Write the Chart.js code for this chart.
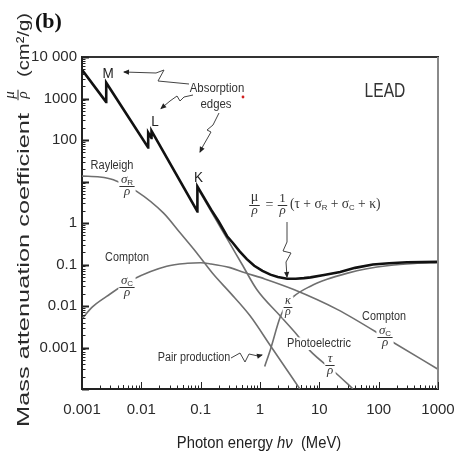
<!DOCTYPE html>
<html>
<head>
<meta charset="utf-8">
<script src="https://cdn.jsdelivr.net/npm/chart.js@4.4.1/dist/chart.umd.min.js"></script>
<style>
  html, body { margin: 0; padding: 0; background: #fff; }
  #wrap { width: 454px; height: 457px; }
</style>
</head>
<body>
<div id="wrap"><canvas id="leadChart" width="454" height="457"></canvas></div>
<script>
// photon energy (MeV) and mass attenuation (cm2/g) for lead
const energyTotal = [0.001, 0.00254, 0.00256, 0.0130, 0.01305, 0.0148, 0.01485, 0.088, 0.0881, 0.15, 0.2, 0.279, 0.35, 0.45, 0.6, 0.8, 1.1, 1.5, 2, 2.87, 4, 5.5, 7.1, 12, 22.4, 40, 80, 150, 302, 1000];
const muTotal = [4900, 830, 2400, 66, 150, 112, 165, 1.9, 7.6, 2.1, 1.1, 0.48, 0.33, 0.21, 0.135, 0.093, 0.07, 0.057, 0.05, 0.0455, 0.0455, 0.047, 0.049, 0.056, 0.066, 0.083, 0.1, 0.107, 0.113, 0.116];

const energyRayleigh = [0.001, 0.002, 0.00337, 0.00836, 0.0235, 0.045, 0.086, 0.164, 0.313, 0.68, 1.5, 4.7];
const rayleigh = [13.5, 12.8, 11, 5.8, 1.75, 0.58, 0.19, 0.058, 0.021, 0.0058, 0.0011, 0.0001];

const energyCompton = [0.001, 0.0015, 0.0026, 0.0073, 0.0268, 0.06, 0.1, 0.15, 0.313, 0.56, 1.2, 3.7, 20, 180, 1000];
const compton = [0.0049, 0.0095, 0.017, 0.044, 0.091, 0.107, 0.11, 0.103, 0.084, 0.063, 0.045, 0.025, 0.0083, 0.0013, 0.0003];

const energyPhoto = [0.0881, 0.15, 0.3, 0.5, 0.883, 2.18, 4, 7, 18.5, 37];
const photo = [7.1, 1.9, 0.35, 0.1, 0.025, 0.0058, 0.0022, 0.00083, 0.00025, 0.0001];

const energyPair = [1.2, 1.5, 2.2, 2.83, 3.7, 7.1, 13.5, 30, 60, 150, 400, 1000];
const pair = [0.00035, 0.0009, 0.0055, 0.011, 0.017, 0.03, 0.044, 0.062, 0.078, 0.095, 0.106, 0.112];

const xTickValues = [0.001, 0.01, 0.1, 1, 10, 100, 1000];
const xTickLabels = ["0.001", "0.01", "0.1", "1", "10", "100", "1000"];
const yTickValues = [0.0001, 0.001, 0.01, 0.1, 1, 10, 100, 1000, 10000];
const yTickLabels = ["", "0.001", "0.01", "0.1", "1", "", "100", "1000", "10 000"];

const INK = "#333";
const GREY = "#6f6f6f";

const pts = (xs, ys) => xs.map((x, i) => ({ x: x, y: ys[i] }));

function setFont(ctx, p) {
  ctx.font = (p.italic ? "italic " : "") + (p.bold ? "bold " : "") + p.size + "px \"" + (p.family || "Liberation Sans") + "\"";
}

function runsWidth(ctx, parts) {
  let w = 0;
  parts.forEach(p => { setFont(ctx, p); w += ctx.measureText(p.t).width; });
  return w;
}

// draws text runs on a common baseline (y), optional horizontal squeeze
function drawRuns(ctx, parts, x, y, opt) {
  opt = opt || {};
  const sx = opt.sx || 1;
  const align = opt.align || "center";
  ctx.save();
  ctx.translate(x, y);
  ctx.scale(sx, 1);
  const w = runsWidth(ctx, parts);
  let cx = align === "center" ? -w / 2 : align === "right" ? -w : 0;
  if (opt.knock) {
    const h = Math.max(...parts.map(p => p.size));
    ctx.fillStyle = "#fff";
    ctx.fillRect(cx - 2, -h * 0.8, w + 4, h * 1.05);
  }
  ctx.textAlign = "left";
  ctx.textBaseline = "alphabetic";
  ctx.fillStyle = opt.color || INK;
  parts.forEach(p => {
    setFont(ctx, p);
    ctx.fillText(p.t, cx, p.dy || 0);
    cx += ctx.measureText(p.t).width;
  });
  ctx.restore();
}

function frac(ctx, num, den, cx, barY, opt) {
  opt = opt || {};
  const size = Math.max(...num.map(p => p.size));
  const bw = Math.max(runsWidth(ctx, num), runsWidth(ctx, den)) + 3;
  if (opt.knock) {
    ctx.fillStyle = "#fff";
    ctx.fillRect(cx - bw / 2 - 1, barY - size * 0.9, bw + 2, size * 1.85);
  }
  drawRuns(ctx, num, cx, barY - (opt.gap || 3), { color: opt.color });
  ctx.strokeStyle = opt.color || INK;
  ctx.lineWidth = 1;
  ctx.beginPath();
  ctx.moveTo(cx - bw / 2, barY + 0.5);
  ctx.lineTo(cx + bw / 2, barY + 0.5);
  ctx.stroke();
  drawRuns(ctx, den, cx, barY + 2 + size * 0.5, { color: opt.color });
}

function arrow(ctx, path) {
  ctx.save();
  ctx.strokeStyle = "#444";
  ctx.fillStyle = "#222";
  ctx.lineWidth = 1;
  ctx.beginPath();
  path.forEach((p, i) => i ? ctx.lineTo(p[0], p[1]) : ctx.moveTo(p[0], p[1]));
  ctx.stroke();
  const a = path[path.length - 2], b = path[path.length - 1];
  const ang = Math.atan2(b[1] - a[1], b[0] - a[0]);
  ctx.translate(b[0], b[1]);
  ctx.rotate(ang);
  ctx.beginPath();
  ctx.moveTo(1, 0);
  ctx.lineTo(-5, -2.6);
  ctx.lineTo(-5, 2.6);
  ctx.closePath();
  ctx.fill();
  ctx.restore();
}

const g = (t, size) => ({ t: t, size: size || 13, family: "Liberation Serif", italic: true });
const sub = t => ({ t: t, size: 8, dy: 2 });
const rho = [g("ρ")];

const decorPlugin = {
  id: "decor",
  beforeDraw(chart) {
    const ctx = chart.ctx;
    ctx.save();
    ctx.fillStyle = "#fff";
    ctx.fillRect(0, 0, chart.width, chart.height);
    ctx.restore();
  },
  afterDraw(chart) {
    const ctx = chart.ctx;
    const ca = chart.chartArea;
    const xs = chart.scales.x, ys = chart.scales.y;
    ctx.save();

    // frame: heavy top, light right side
    ctx.lineWidth = 2;
    ctx.strokeStyle = "#333";
    ctx.beginPath(); ctx.moveTo(ca.left, ca.top); ctx.lineTo(ca.right + 1, ca.top); ctx.stroke();
    ctx.strokeStyle = "#8a8a8a";
    ctx.beginPath(); ctx.moveTo(ca.right, ca.top); ctx.lineTo(ca.right, ca.bottom); ctx.stroke();

    // inward tick marks, majors and minors
    ctx.strokeStyle = "#222";
    ctx.lineWidth = 1;
    for (let d = 0.001; d < 1001; d *= 10) {
      for (let m = 1; m <= 9; m++) {
        const v = d * m;
        if (v > 1000.1) break;
        const px = Math.round(xs.getPixelForValue(v)) + 0.5;
        const len = m === 1 ? 7 : (m === 5 ? 4 : 3.5);
        ctx.beginPath(); ctx.moveTo(px, ca.bottom); ctx.lineTo(px, ca.bottom - len); ctx.stroke();
      }
    }
    for (let d = 0.0001; d < 10001; d *= 10) {
      for (let m = 1; m <= 9; m++) {
        const v = d * m;
        if (v > 10000.1) break;
        const py = Math.round(ys.getPixelForValue(v)) + 0.5;
        const len = m === 1 ? 7 : 3.5;
        ctx.lineWidth = m === 1 ? 2 : 1;
        ctx.beginPath(); ctx.moveTo(ca.left, py); ctx.lineTo(ca.left + len, py); ctx.stroke();
      }
    }

    // panel letter and labels
    drawRuns(ctx, [{ t: "(b)", size: 22, bold: true, family: "Liberation Serif" }], 35, 28, { align: "left", color: "#111" });
    drawRuns(ctx, [{ t: "LEAD", size: 20 }], 385, 97, { sx: 0.78 });
    drawRuns(ctx, [{ t: "M", size: 15 }], 108, 77.5, { sx: 0.9, color: "#222" });
    drawRuns(ctx, [{ t: "L", size: 15 }], 155, 126, { sx: 0.9, color: "#222" });
    drawRuns(ctx, [{ t: "K", size: 15 }], 198.5, 182, { sx: 0.9, color: "#222" });
    drawRuns(ctx, [{ t: "Absorption", size: 12 }], 217, 92, { sx: 0.95 });
    drawRuns(ctx, [{ t: "edges", size: 12 }], 216, 108, { sx: 0.95 });
    ctx.fillStyle = "#d32020";
    ctx.beginPath(); ctx.arc(243, 97, 1.4, 0, Math.PI * 2); ctx.fill();

    arrow(ctx, [[189, 84], [158, 81], [164, 70], [156, 73], [124, 72]]);
    arrow(ctx, [[193, 95], [184, 97], [180, 101], [177, 96], [170, 101], [161, 108.5]]);
    arrow(ctx, [[219, 113], [213, 125], [207, 130], [211, 132], [203, 146], [200, 152]]);

    drawRuns(ctx, [{ t: "Rayleigh", size: 12 }], 112, 169, { sx: 0.92 });
    frac(ctx, [g("σ"), sub("R")], rho, 127, 186, { knock: true });

    drawRuns(ctx, [{ t: "Compton", size: 12 }], 127, 261, { sx: 0.9 });
    frac(ctx, [g("σ"), sub("C")], rho, 127, 287, { knock: true });

    // formula for the total
    frac(ctx, [{ t: "μ", size: 14, family: "Liberation Serif" }], rho, 254.5, 205, { gap: 4 });
    drawRuns(ctx, [{ t: "=", size: 14, family: "Liberation Serif" }], 269.5, 208.5);
    frac(ctx, [{ t: "1", size: 13, family: "Liberation Serif" }], rho, 282.5, 205);
    drawRuns(ctx, [
      { t: "(τ + σ", size: 14, family: "Liberation Serif" }, sub("R"),
      { t: " + σ", size: 14, family: "Liberation Serif" }, sub("C"),
      { t: " + κ)", size: 14, family: "Liberation Serif" }
    ], 290, 207.5, { align: "left", sx: 0.97 });
    arrow(ctx, [[287, 222], [287, 242], [283, 251], [291, 253], [286, 262], [287, 277]]);

    frac(ctx, [g("κ", 12)], [g("ρ", 12)], 288, 307, { knock: true });

    drawRuns(ctx, [{ t: "Compton", size: 12 }], 384, 320, { sx: 0.9 });
    frac(ctx, [g("σ"), sub("C")], rho, 385, 337, { knock: true });

    drawRuns(ctx, [{ t: "Photoelectric", size: 12 }], 319, 347, { sx: 0.92, knock: true });
    frac(ctx, [g("τ")], rho, 330, 365, { knock: true });

    drawRuns(ctx, [{ t: "Pair production", size: 12 }], 194, 361, { sx: 0.9 });
    arrow(ctx, [[231, 358], [240, 353], [245, 362], [249, 354], [258, 356], [262, 355]]);

    // x axis title
    drawRuns(ctx, [
      { t: "Photon energy ", size: 17 },
      { t: "hν", size: 17, italic: true },
      { t: "  (MeV)", size: 17 }
    ], 259, 448, { sx: 0.87, color: "#222" });

    // y axis title, rotated and stretched along its length
    ctx.save();
    ctx.translate(29, 427);
    ctx.rotate(-Math.PI / 2);
    ctx.fillStyle = "#2a2a2a";
    ctx.textAlign = "left";
    ctx.textBaseline = "alphabetic";
    ctx.font = "17px \"Liberation Sans\"";
    const main = "Mass attenuation coefficient";
    const wm = ctx.measureText(main).width;
    ctx.save(); ctx.scale(314 / wm, 1); ctx.fillText(main, 0, 0); ctx.restore();
    frac(ctx, [{ t: "μ", size: 15, family: "Liberation Serif", italic: true }], [g("ρ", 15)], 332, -11.5, { color: "#2a2a2a", gap: 4 });
    ctx.font = "17px \"Liberation Sans\"";
    const units = "(cm²/g)";
    const wu = ctx.measureText(units).width;
    ctx.save(); ctx.translate(350, 0); ctx.scale(64 / wu, 1); ctx.fillText(units, 0, 0); ctx.restore();
    ctx.restore();

    ctx.restore();
  }
};

document.addEventListener("DOMContentLoaded", () => {
  const canvas = document.getElementById("leadChart");
  const thin = { showLine: true, pointRadius: 0, borderColor: GREY, borderWidth: 1.6, cubicInterpolationMode: "monotone", fill: false };

  new Chart(canvas.getContext("2d"), {
    type: "scatter",
    data: {
      datasets: [
        { label: "Total", data: pts(energyTotal, muTotal), showLine: true, pointRadius: 0, borderColor: "#111", borderWidth: 2.6, tension: 0, fill: false },
        Object.assign({ label: "Rayleigh", data: pts(energyRayleigh, rayleigh) }, thin),
        Object.assign({ label: "Compton", data: pts(energyCompton, compton) }, thin),
        Object.assign({ label: "Photoelectric", data: pts(energyPhoto, photo) }, thin),
        Object.assign({ label: "Pair production", data: pts(energyPair, pair) }, thin)
      ]
    },
    options: {
      responsive: false,
      animation: false,
      devicePixelRatio: 1,
      layout: { padding: { top: 57, right: 16, left: 0, bottom: 0 } },
      plugins: { legend: { display: false }, tooltip: { enabled: false } },
      scales: {
        x: {
          type: "logarithmic",
          min: 0.001,
          max: 1000,
          grid: { display: false, drawTicks: false },
          border: { display: true, color: "#222", width: 2 },
          ticks: {
            autoSkip: false,
            maxRotation: 0,
            padding: 12,
            color: "#2a2a2a",
            font: { family: "Liberation Sans", size: 15 },
            callback: (v, i) => xTickLabels[i]
          },
          afterBuildTicks: s => { s.ticks = xTickValues.map(v => ({ value: v })); },
          afterFit: s => { s.height = 68; s.paddingLeft = 0; s.paddingRight = 0; }
        },
        y: {
          type: "logarithmic",
          min: 0.0001,
          max: 10000,
          grid: { display: false, drawTicks: false },
          border: { display: true, color: "#222", width: 2 },
          ticks: {
            autoSkip: false,
            padding: 5,
            color: "#2a2a2a",
            font: { family: "Liberation Sans", size: 15 },
            callback: (v, i) => yTickLabels[i]
          },
          afterBuildTicks: s => { s.ticks = yTickValues.map(v => ({ value: v })); },
          afterFit: s => { s.width = 82; s.paddingTop = 0; s.paddingBottom = 0; }
        }
      }
    },
    plugins: [decorPlugin]
  });
});
</script>
</body>
</html>
